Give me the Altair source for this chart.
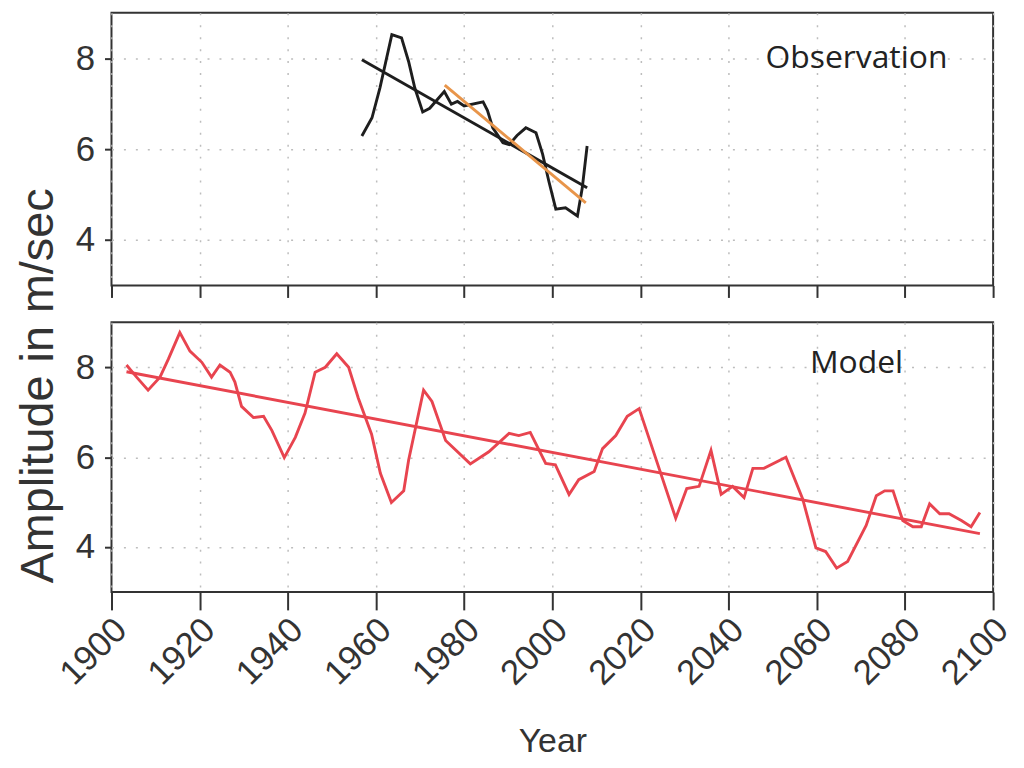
import altair as alt
import pandas as pd

# ---- data ----
obs_years = [1956.8, 1959.1, 1960.9, 1963.6, 1965.8, 1967.4, 1968.8, 1970.6, 1972.2,
             1975.5, 1977.1, 1978.5, 1980.0, 1984.3, 1985.3, 1986.5, 1988.8, 1990.2,
             1992.0, 1994.0, 1996.3, 1997.8, 1999.2, 2000.8, 2003.0, 2005.7, 2006.8, 2007.9]
obs_values = [6.29, 6.69, 7.35, 8.52, 8.45, 7.93, 7.35, 6.82, 6.90,
              7.27, 6.99, 7.05, 6.95, 7.04, 6.85, 6.47, 6.14, 6.10,
              6.30, 6.47, 6.36, 5.89, 5.30, 4.68, 4.71, 4.53, 5.15, 6.07]

obs_trend_years = [1956.8, 2007.9]
obs_trend_values = [7.97, 5.15]

recent_trend_years = [1975.6, 2007.6]
recent_trend_values = [7.41, 4.82]

model_years = [1903.4, 1905.7, 1908.3, 1911.0, 1912.9, 1915.5, 1917.8, 1920.5, 1922.7,
               1924.6, 1926.9, 1928.0, 1929.5, 1932.2, 1934.5, 1936.4, 1939.2, 1941.7,
               1943.9, 1946.2, 1948.5, 1951.1, 1953.8, 1956.0, 1957.6, 1959.0, 1961.0,
               1963.5, 1966.3, 1967.4, 1970.8, 1972.7, 1975.8, 1981.4, 1985.6, 1990.2,
               1992.4, 1995.0, 1998.5, 2000.7, 2003.8, 2006.0, 2009.5, 2011.4, 2014.4,
               2017.0, 2019.7, 2028.0, 2030.5, 2033.3, 2036.0, 2038.3, 2040.9, 2043.5,
               2045.5, 2048.0, 2053.0, 2056.8, 2059.8, 2062.0, 2064.5, 2067.0, 2071.2,
               2073.5, 2075.4, 2077.3, 2079.5, 2081.8, 2083.7, 2085.6, 2087.9, 2090.0,
               2092.8, 2095.0, 2097.0]
model_values = [8.05, 7.78, 7.49, 7.78, 8.18, 8.77, 8.36, 8.11, 7.78,
                8.05, 7.89, 7.67, 7.13, 6.88, 6.91, 6.59, 5.99, 6.44,
                6.98, 7.89, 8.00, 8.30, 8.00, 7.31, 6.88, 6.51, 5.64,
                4.99, 5.25, 5.93, 7.49, 7.24, 6.37, 5.85, 6.12, 6.53,
                6.48, 6.55, 5.86, 5.83, 5.17, 5.50, 5.68, 6.19, 6.48,
                6.91, 7.08, 4.64, 5.30, 5.35, 6.15, 5.17, 5.35, 5.10,
                5.75, 5.75, 6.00, 5.07, 3.98, 3.90, 3.53, 3.68, 4.48,
                5.14, 5.25, 5.25, 4.59, 4.45, 4.45, 4.96, 4.74, 4.74,
                4.59, 4.45, 4.77]

model_trend_years = [1903.4, 2097.0]
model_trend_values = [7.90, 4.30]

x_ticks = list(range(1900, 2101, 20))
y_ticks = [4, 6, 8]

panel_labels = ["Observation", "Model"]
panel_label_years = [2069, 2069]
panel_label_values = [8.0, 8.1]

# ---- tables ----
obs_df = pd.DataFrame({"year": obs_years, "value": obs_values})
obs_trend_df = pd.DataFrame({"year": obs_trend_years, "value": obs_trend_values})
recent_df = pd.DataFrame({"year": recent_trend_years, "value": recent_trend_values})
model_df = pd.DataFrame({"year": model_years, "value": model_values})
model_trend_df = pd.DataFrame({"year": model_trend_years, "value": model_trend_values})
top_label_df = pd.DataFrame({"year": [panel_label_years[0]], "value": [panel_label_values[0]],
                             "label": [panel_labels[0]]})
bot_label_df = pd.DataFrame({"year": [panel_label_years[1]], "value": [panel_label_values[1]],
                             "label": [panel_labels[1]]})

W = 886
RED = "#e8444f"
ORANGE = "#e8954a"
BLACK = "#1e1e1e"
FONT = "Liberation Sans"
LW = 2.9

xscale = alt.Scale(domain=[1900, 2100], nice=False, zero=False)
yscale = alt.Scale(domain=[3, 9], nice=False, zero=False)

yaxis = alt.Axis(values=y_ticks, title=None, tickSize=7, labelPadding=10,
                 labelFontSize=35, grid=True)

x_top = alt.X("year:Q", scale=xscale,
              axis=alt.Axis(values=x_ticks, labels=False, title=None, tickSize=12,
                            grid=True))
x_bot = alt.X("year:Q", scale=xscale,
              axis=alt.Axis(values=x_ticks, format="d", title="Year", tickSize=18,
                            labelAngle=-45, labelAlign="right", labelBaseline="middle",
                            labelFontSize=35, labelPadding=14, labelOffset=9,
                            titleFontSize=34, titlePadding=34, grid=True))
y_enc = alt.Y("value:Q", scale=yscale, axis=yaxis)

top_obs = alt.Chart(obs_df).mark_line(color=BLACK, strokeWidth=LW).encode(
    x=x_top, y=y_enc)
top_trend = alt.Chart(obs_trend_df).mark_line(color=BLACK, strokeWidth=LW).encode(
    x="year:Q", y="value:Q")
top_recent = alt.Chart(recent_df).mark_line(color=ORANGE, strokeWidth=LW).encode(
    x="year:Q", y="value:Q")
top_text = alt.Chart(top_label_df).mark_text(font="Open Sans", fontSize=32,
                                             color="#222").encode(
    x="year:Q", y="value:Q", text="label:N")

top = alt.layer(top_obs, top_trend, top_recent, top_text).properties(width=W, height=274)

bot_line = alt.Chart(model_df).mark_line(color=RED, strokeWidth=LW).encode(
    x=x_bot, y=y_enc)
bot_trend = alt.Chart(model_trend_df).mark_line(color=RED, strokeWidth=LW).encode(
    x="year:Q", y="value:Q")
bot_text = alt.Chart(bot_label_df).mark_text(font="Open Sans", fontSize=32,
                                             color="#222").encode(
    x="year:Q", y="value:Q", text="label:N")

bottom = alt.layer(bot_line, bot_trend, bot_text).properties(width=W, height=271)

chart = alt.vconcat(top, bottom, spacing=22).properties(
    title=alt.TitleParams("Amplitude in m/sec", orient="left", anchor="middle",
                          fontSize=47, font=FONT, fontWeight="normal", color="#333",
                          offset=-10),
    padding={"left": 6, "top": 2, "right": 0, "bottom": 0},
).configure_view(
    stroke="#333", strokeWidth=2
).configure_axis(
    domain=False, tickColor="#333", tickWidth=2, labelColor="#333", titleColor="#333",
    labelFont=FONT, titleFont=FONT, titleFontWeight="normal",
    gridColor="#bdbdbd", gridDash=[2, 10], gridWidth=1.5
)

chart.save("out.html", embed_options={"renderer": "svg", "actions": False})
